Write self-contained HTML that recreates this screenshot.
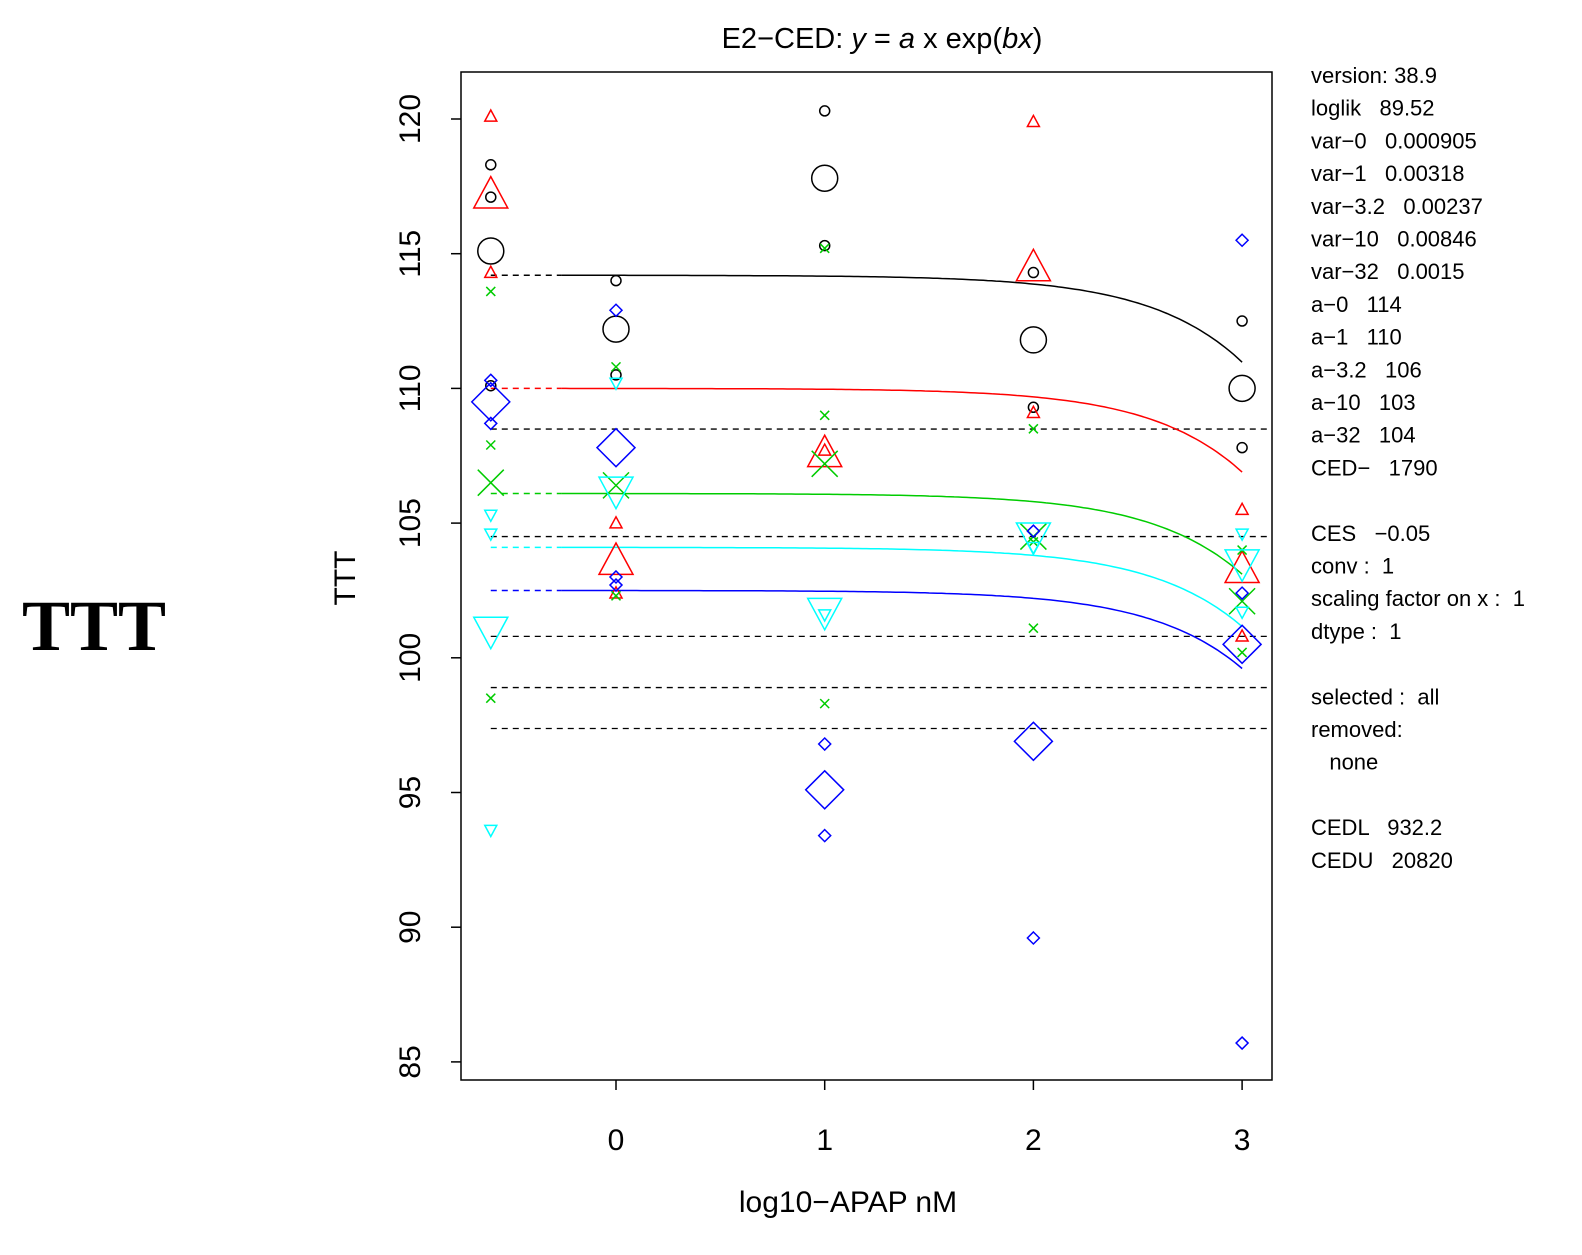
<!DOCTYPE html>
<html><head><meta charset="utf-8"><style>
body{margin:0;background:#fff;}
svg{display:block;font-family:"Liberation Sans",sans-serif;}
</style></head><body>
<svg id="chart" width="1582" height="1255" xmlns="http://www.w3.org/2000/svg">
<text x="22" y="650" font-family="Liberation Serif,serif" font-weight="bold" font-size="72">TTT</text>
<text x="882" y="48" text-anchor="middle" font-size="29">E2−CED: <tspan font-style="italic">y</tspan> = <tspan font-style="italic">a</tspan> x exp(<tspan font-style="italic">bx</tspan>)</text>
<rect x="461" y="72" width="811" height="1008" fill="none" stroke="#000" stroke-width="1.5"/>
<text transform="translate(355,578) rotate(-90)" text-anchor="middle" font-size="30">TTT</text>
<text x="848" y="1212" text-anchor="middle" font-size="30">log10−APAP nM</text>
<g id="axes"></g><g id="marks"></g>
<g font-size="22" id="info"></g>
</svg>
<script>
const yTicks=[85,90,95,100,105,110,115,120];
const xTicks=[0,1,2,3];
const xs=[-0.6,0,1,2,3];
const groupColors=["#000","#f00","#0c0","#0ff","#00f"];
const groupNames=["0","1","3.2","10","32"];
const aVals=[114.2,110,106.1,104.1,102.5];
const CES=-0.05, CED=1790;
// individual points [x, y]
const ptsBlack=[[-0.6,118.3],[-0.6,117.1],[-0.6,110.1],[0,114],[0,110.5],[1,120.3],[1,115.3],[2,114.3],[2,109.3],[3,112.5],[3,107.8]];
const ptsRed=[[-0.6,120.1],[-0.6,114.3],[0,105],[0,102.4],[1,107.7],[2,119.9],[2,109.1],[3,105.5],[3,100.8]];
const ptsGreen=[[-0.6,113.6],[-0.6,107.9],[-0.6,98.5],[0,110.8],[0,102.3],[1,115.2],[1,109],[1,98.3],[2,108.5],[2,104.3],[2,101.1],[3,104],[3,100.2]];
const ptsCyan=[[-0.6,105.3],[-0.6,104.6],[-0.6,93.6],[0,110.2],[1,101.6],[2,104.1],[3,104.6],[3,101.7]];
const ptsBlue=[[-0.6,110.3],[-0.6,108.7],[0,112.9],[0,103],[0,102.7],[1,96.8],[1,93.4],[2,104.7],[2,89.6],[3,115.5],[3,102.4],[3,85.7]];
const meanBlack=[115.1,112.2,117.8,111.8,110];
const meanRed=[117.2,103.6,107.6,114.5,103.3];
const meanGreen=[106.5,106.4,107.2,104.5,102.1];
const meanCyan=[101,106.2,101.7,104.5,103.5];
const meanBlue=[109.5,107.8,95.1,96.9,100.5];
const infoLines=["version: 38.9","loglik   89.52","var−0   0.000905","var−1   0.00318","var−3.2   0.00237","var−10   0.00846","var−32   0.0015","a−0   114","a−1   110","a−3.2   106","a−10   103","a−32   104","CED−   1790","","CES   −0.05","conv :  1","scaling factor on x :  1","dtype :  1","","selected :  all","removed:","   none","","CEDL   932.2","CEDU   20820"];

const NS="http://www.w3.org/2000/svg";
const X=v=>616+v*208.7;
const Y=v=>119+(120-v)*26.94;
function mk(tag,attrs,parent){const e=document.createElementNS(NS,tag);for(const k in attrs)e.setAttribute(k,attrs[k]);parent.appendChild(e);return e;}
const axes=document.getElementById('axes'),marks=document.getElementById('marks'),info=document.getElementById('info');
yTicks.forEach(t=>{
 const l=mk('line',{x1:451,x2:461,y1:Y(t),y2:Y(t),stroke:'#000','stroke-width':1.5},axes);
 
 const tx=mk('text',{transform:`translate(420,${Y(t)}) rotate(-90)`,'text-anchor':'middle','font-size':30},axes);
 tx.textContent=t;
});
xTicks.forEach(t=>{
 const l=mk('line',{x1:X(t),x2:X(t),y1:1080,y2:1090,stroke:'#000','stroke-width':1.5},axes);
 
 const tx=mk('text',{x:X(t),y:1150,'text-anchor':'middle','font-size':30},axes);
 tx.textContent=t;
});
// CES reference lines
aVals.forEach(a=>{
 const l=mk('line',{x1:X(-0.6),x2:1272,y1:Y(a*(1+CES)),y2:Y(a*(1+CES)),stroke:'#000','stroke-width':1.3,'stroke-dasharray':'6,5'},marks);
 
});
const b=Math.log(1+CES)/CED;
aVals.forEach((a,i)=>{
 const d=mk('line',{x1:X(-0.6),x2:X(-0.26),y1:Y(a),y2:Y(a),stroke:groupColors[i],'stroke-width':1.5,'stroke-dasharray':'6,5'},marks);
 
 let p='';for(let lx=-0.26;lx<=3.0001;lx+=0.02){const v=a*Math.exp(b*Math.pow(10,lx));p+=(p?'L':'M')+X(lx).toFixed(1)+','+Y(v).toFixed(1);}
 const c=mk('path',{d:p,fill:'none',stroke:groupColors[i],'stroke-width':1.5},marks);
 
});
function marker(type,x,y,s,col,name){
 let e;
 if(type==='circle')e=mk('circle',{cx:x,cy:y,r:s,fill:'none',stroke:col,'stroke-width':1.5},marks);
 else if(type==='up')e=mk('polygon',{points:`${x-s},${y+s*0.8} ${x+s},${y+s*0.8} ${x},${y-s*1.05}`,fill:'none',stroke:col,'stroke-width':1.5},marks);
 else if(type==='down')e=mk('polygon',{points:`${x-s},${y-s*0.8} ${x+s},${y-s*0.8} ${x},${y+s*1.05}`,fill:'none',stroke:col,'stroke-width':1.5},marks);
 else if(type==='diamond')e=mk('polygon',{points:`${x},${y-s} ${x+s},${y} ${x},${y+s} ${x-s},${y}`,fill:'none',stroke:col,'stroke-width':1.5},marks);
 else e=mk('path',{d:`M${x-s},${y-s}L${x+s},${y+s}M${x-s},${y+s}L${x+s},${y-s}`,stroke:col,'stroke-width':1.5},marks);
 
}
const groups=[[ptsBlack,meanBlack,'circle',5,13],[ptsRed,meanRed,'up',6,17],[ptsGreen,meanGreen,'x',4.5,13],[ptsCyan,meanCyan,'down',6,17],[ptsBlue,meanBlue,'diamond',6,19]];
groups.forEach((g,i)=>{
 g[0].forEach(p=>marker(g[2],X(p[0]),Y(p[1]),g[3],groupColors[i],'point-'+groupNames[i]));
 g[1].forEach((v,j)=>marker(g[2],X(xs[j]),Y(v),g[4],groupColors[i],'mean-'+groupNames[i]));
});
infoLines.forEach((s,i)=>{
 const t=mk('text',{x:1311,y:83+i*32.7,'xml:space':'preserve'},info);
 t.setAttribute('style','white-space:pre');t.textContent=s;
 
});
</script>
</body></html>
